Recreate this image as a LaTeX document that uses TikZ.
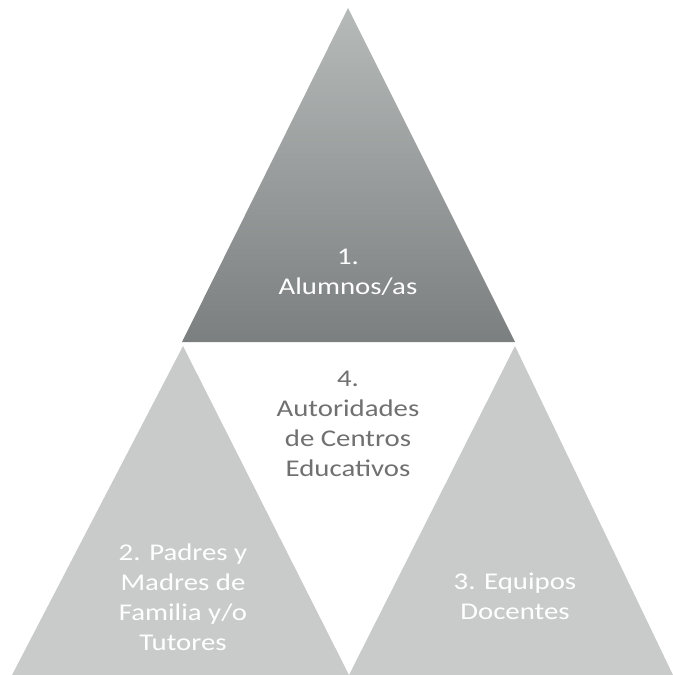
\documentclass[tikz,border=0pt]{standalone}
\usepackage{fontspec}
\setmainfont{Carlito}[FakeStretch=1.2]
\definecolor{topgrey}{HTML}{B6BAB9}
\definecolor{darkgrey}{HTML}{7B7F7F}
\definecolor{sidegrey}{HTML}{C9CBCA}
\definecolor{textgrey}{HTML}{707070}
\tikzset{
  label/.style={align=center, font=\fontsize{18}{22.5}\selectfont, inner sep=0pt},
  onshade/.style={label, text=white},
  onwhite/.style={label, text=textgrey}
}
\begin{document}
\begin{tikzpicture}[x=0.75pt, y=-0.75pt]
  \useasboundingbox (0,0) rectangle (673,675);
  % corners of the four triangles
  \coordinate (a) at (348,8);
  \coordinate (b) at (182,342);
  \coordinate (c) at (515,342);
  \coordinate (d) at (183,346);
  \coordinate (e) at (515,346);
  \coordinate (f) at (12,675);
  \coordinate (g) at (349,675);
  \coordinate (h) at (673,675);
  \shade[top color=topgrey, bottom color=darkgrey] (a) -- (c) -- (b) -- cycle;
  \fill[sidegrey] (d) -- (g) -- (f) -- cycle;
  \fill[sidegrey] (e) -- (h) -- (g) -- cycle;
  % texts
  \node[onshade] (alumnos) at (348,272) {1.\\Alumnos/as};
  \node[onwhite] (autoridades) at (348,424) {4.\\Autoridades\\de Centros\\Educativos};
  \node[onshade] (padres) at (183,597) {2. Padres y\\Madres de\\Familia y/o\\Tutores};
  \node[onshade] (equipos) at (515,596) {3. Equipos\\Docentes};
\end{tikzpicture}
\end{document}
